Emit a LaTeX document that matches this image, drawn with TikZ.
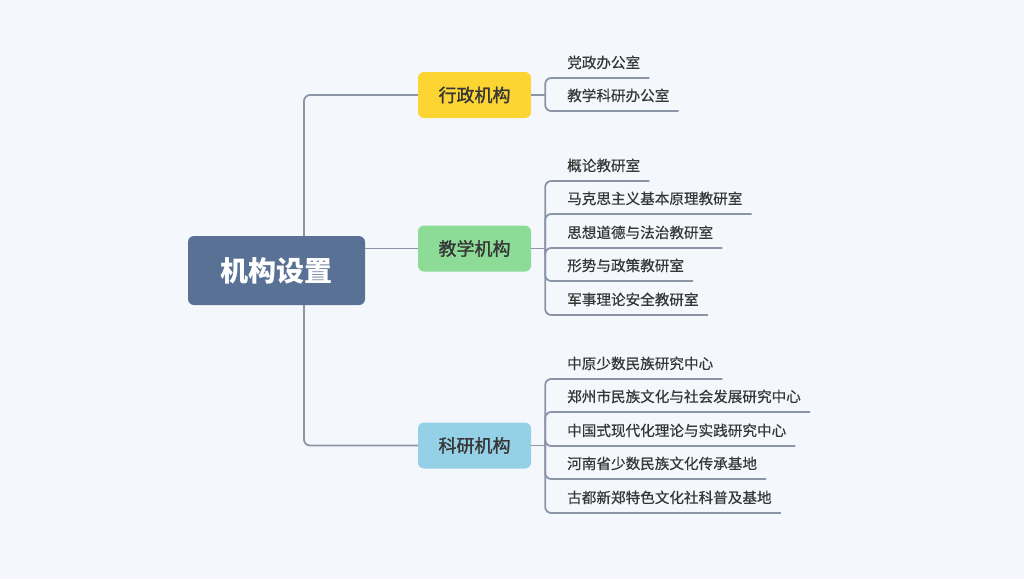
\documentclass[tikz,border=0pt]{standalone}
\usepackage{fontspec}
\newfontfamily\cjk{Noto Sans CJK SC}
\newfontfamily\cjkm[FakeBold=1.4]{Noto Sans CJK SC}
\newfontfamily\cjkl[FakeBold=0.5]{Noto Sans CJK SC}
\usetikzlibrary{calc}
\definecolor{bgc}{HTML}{F4F8FC}
\definecolor{rootc}{HTML}{5A7196}
\definecolor{yelc}{HTML}{FDD533}
\definecolor{grnc}{HTML}{8CDC97}
\definecolor{bluc}{HTML}{95D1E6}
\definecolor{linec}{HTML}{8C95A8}
\definecolor{txtc}{HTML}{363636}
\tikzset{
  rootbox/.style={fill=rootc, rounded corners=6pt, minimum width=177pt, minimum height=69pt, inner sep=0pt,
    text=white, font=\cjk\bfseries\fontsize{28}{32}\selectfont},
  branchbox/.style={rounded corners=6pt, minimum width=113pt, minimum height=46pt, inner sep=0pt,
    text=txtc, font=\cjkm\fontsize{18}{22}\selectfont},
  leaf/.style={anchor=base west, inner sep=0pt, text=txtc, font=\cjkl\fontsize{14.6}{18}\selectfont},
  link/.style={draw=linec, line width=1.8pt, rounded corners=6pt},
}
\begin{document}
\begin{tikzpicture}[x=1pt,y=-1pt]
\fill[bgc] (0,0) rectangle (1024,579);
\useasboundingbox (0,0) rectangle (1024,579);

% branches
\node[branchbox, fill=yelc] (b1) at (474.5,95) {行政机构};
\node[branchbox, fill=grnc] (b2) at (474.5,248.5) {教学机构};
\node[branchbox, fill=bluc] (b3) at (474.5,445.5) {科研机构};

% trunk
\coordinate (rj) at (304,270.5);
\draw[link] (rj) |- (b1.west);
\draw[link] (rj) |- (b3.west);
\node[rootbox] (root) at (276.5,270.5) {机构设置};
\draw[link] (root.east |- b2.west) -- (b2.west);

% junctions
\coordinate (j1) at ([xshift=14pt]b1.east);
\coordinate (j2) at ([xshift=14pt]b2.east);
\coordinate (j3) at ([xshift=14pt]b3.east);
\draw[link] (b1.east) -- (j1);
\draw[link] (b2.east) -- (j2);
\draw[link] (b3.east) -- (j3);

% leaves of b1
\node[leaf] (a1) at (567,68) {党政办公室};
\node[leaf] (a2) at (567,101) {教学科研办公室};
% leaves of b2
\node[leaf] (t1) at (567,171) {概论教研室};
\node[leaf] (t2) at (567,204) {马克思主义基本原理教研室};
\node[leaf] (t3) at (567,238) {思想道德与法治教研室};
\node[leaf] (t4) at (567,271) {形势与政策教研室};
\node[leaf] (t5) at (567,305) {军事理论安全教研室};
% leaves of b3
\node[leaf] (r1) at (567,369) {中原少数民族研究中心};
\node[leaf] (r2) at (567,402) {郑州市民族文化与社会发展研究中心};
\node[leaf] (r3) at (567,436) {中国式现代化理论与实践研究中心};
\node[leaf] (r4) at (567,469) {河南省少数民族文化传承基地};
\node[leaf] (r5) at (567,503) {古都新郑特色文化社科普及基地};

\foreach \c in {a1,a2}{\draw[link] (j1) |- ([xshift=9pt,yshift=-10pt]\c.base east);}
\foreach \c in {t1,t2,t3,t4,t5}{\draw[link] (j2) |- ([xshift=9pt,yshift=-10pt]\c.base east);}
\foreach \c in {r1,r2,r3,r4,r5}{\draw[link] (j3) |- ([xshift=9pt,yshift=-10pt]\c.base east);}
\end{tikzpicture}
\end{document}
